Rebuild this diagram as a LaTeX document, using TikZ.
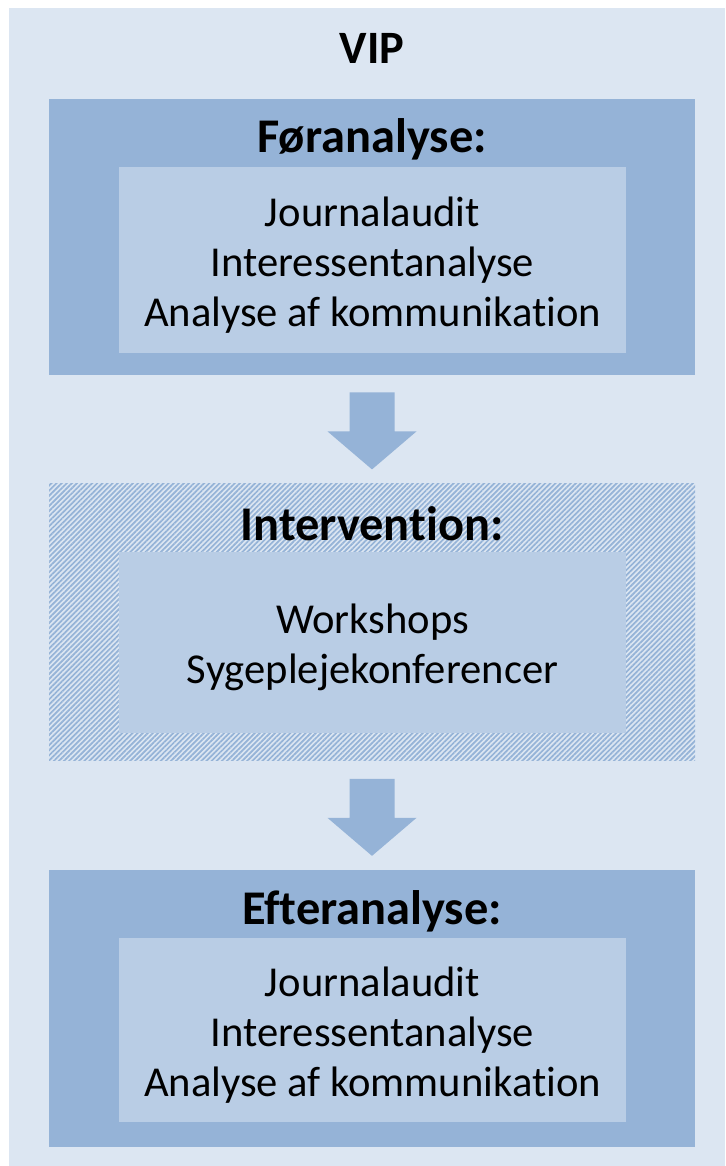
\documentclass[tikz,border=0pt]{standalone}
\usepackage{fontspec}
\setmainfont{Carlito}[Ligatures=NoCommon]
\usepackage{tikz}
\usetikzlibrary{positioning,calc,patterns.meta}
\definecolor{bgblue}{HTML}{DCE6F2}
\definecolor{midblue}{HTML}{95B3D7}
\definecolor{paleblue}{HTML}{B9CDE5}

\begin{document}
\begin{tikzpicture}[
    x=0.5pt, y=-0.5pt,
    outer/.style={minimum width=323pt, minimum height=138pt, inner sep=0pt, fill=midblue},
    hatched/.style={minimum width=323pt, minimum height=138.5pt, inner sep=0pt, fill=white,
        pattern={Lines[angle=45,distance=1.8pt,line width=0.85pt]}, pattern color=midblue},
    inner/.style={minimum width=253.5pt, inner sep=0pt, fill=paleblue},
    items/.style={align=center, inner sep=0pt, yshift=-2.5pt, font=\fontsize{21.3}{25}\selectfont},
    head/.style={font=\fontsize{24.2}{28}\selectfont\bfseries},
    blockarr/.style={fill=midblue}
]
% Background
\fill[bgblue] (9,8) rectangle (725,1166);
\useasboundingbox (0,0) rectangle (725,1166);
\node[font=\fontsize{23.2}{27}\selectfont\bfseries] (vip) at (372,48) {VIP};
% Foranalyse
\node[outer] (f) at (372,237) {};
\node[inner, minimum height=93pt] (fin) at (372.5,260) {};
\node[items] (fitems) at (fin) {Journalaudit\\Interessentanalyse\\Analyse af kommunikation};
\node[head] (fh) at (372,139) {Føranalyse:};
% Intervention
\node[hatched] (i) at (372,621.5) {};
\node[inner, minimum height=90.5pt] (iin) at (372.5,642.5) {};
\node[items] (iitems) at (iin) {Workshops\\Sygeplejekonferencer};
\node[head] (ih) at (372,523.5) {Intervention:};
% Efteranalyse
\node[outer, minimum height=138.5pt] (e) at (372,1008.5) {};
\node[inner, minimum height=92pt] (ein) at (372.5,1030) {};
\node[items] (eitems) at (ein) {Journalaudit\\Interessentanalyse\\Analyse af kommunikation};
\node[head] (eh) at (372,911) {Efteranalyse:};
% Arrows between stages
\coordinate (a1) at ($(f.south)+(0,17)$);
\coordinate (a2) at ($(i.south)+(0,18)$);
\foreach \a in {a1,a2}
  \fill[blockarr] ($(\a)+(-22.5,0)$) -- ($(\a)+(22.5,0)$) -- ($(\a)+(22.5,39)$) -- ($(\a)+(44.5,39)$)
    -- ($(\a)+(0,77)$) -- ($(\a)+(-44.5,39)$) -- ($(\a)+(-22.5,39)$) -- cycle;
\end{tikzpicture}
\end{document}
